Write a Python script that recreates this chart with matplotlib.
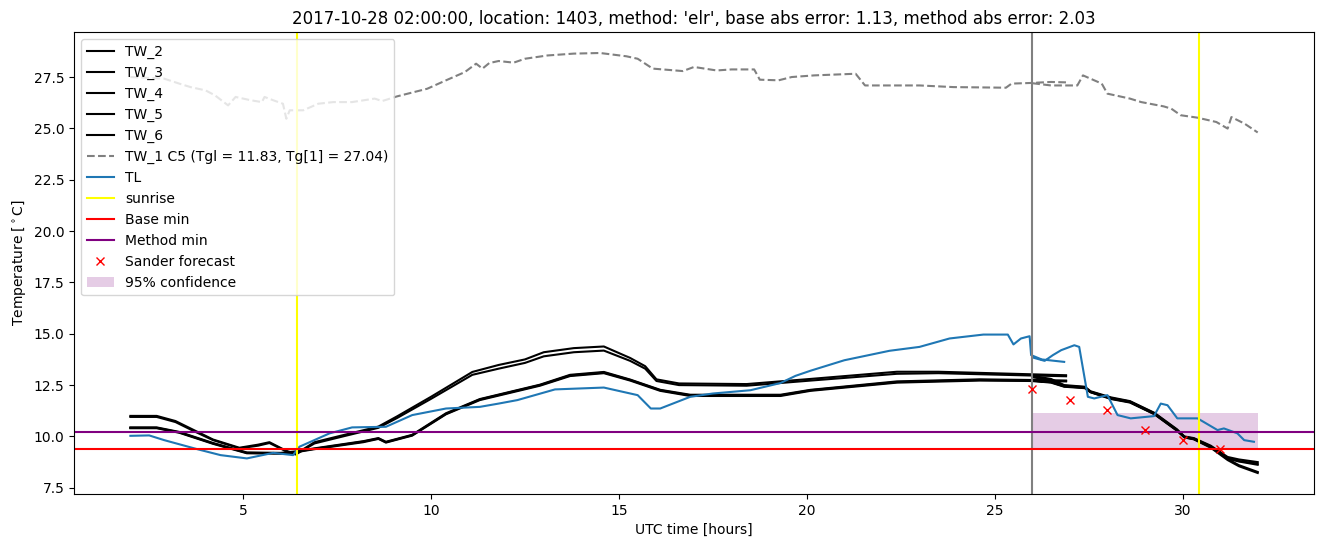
import numpy as np
import matplotlib
matplotlib.use("Agg")
import matplotlib.pyplot as plt

# ---- data ----
# black TW lines, first part (history, 2h .. 27h)
t_up_a = [2.0, 2.7, 3.2, 3.7, 4.2, 4.9, 5.4, 5.7, 6.15, 6.4, 6.9, 7.7, 8.6, 9.1, 10.0, 11.1, 11.8,
          12.5, 13.0, 13.8, 14.6, 15.3, 15.7, 16.0, 16.6, 18.4, 20.1, 22.4, 23.5, 25.9, 26.9]
tw2_a = [11.0, 11.0, 10.75, 10.3, 9.85, 9.45, 9.6, 9.72, 9.3, 9.15, 9.72, 10.08, 10.48, 10.98, 11.93, 13.14, 13.48,
         13.75, 14.1, 14.3, 14.38, 13.82, 13.42, 12.78, 12.58, 12.55, 12.8, 13.15, 13.15, 13.03, 12.98]
tw3_a = [10.95, 10.95, 10.7, 10.25, 9.82, 9.42, 9.55, 9.68, 9.27, 9.12, 9.66, 10.02, 10.42, 10.9, 11.83, 13.0, 13.3,
         13.58, 13.9, 14.1, 14.18, 13.68, 13.3, 12.7, 12.5, 12.47, 12.72, 13.05, 13.08, 12.97, 12.93]

t_lo_a = [2.0, 2.7, 3.3, 4.2, 5.1, 6.0, 6.4, 6.9, 8.2, 8.6, 8.8, 9.5, 10.4, 11.3, 12.9, 13.7, 14.6, 15.3,
          16.1, 16.9, 19.3, 20.1, 22.4, 24.6, 25.9, 26.9]
tw4_a = [10.44, 10.44, 10.22, 9.68, 9.22, 9.2, 9.27, 9.42, 9.77, 9.92, 9.74, 10.08, 11.13, 11.82, 12.52, 13.0, 13.14,
         12.77, 12.27, 12.03, 12.03, 12.27, 12.68, 12.78, 12.75, 12.72]
tw5_a = [10.4, 10.4, 10.18, 9.64, 9.18, 9.16, 9.23, 9.38, 9.72, 9.88, 9.7, 10.04, 11.08, 11.77, 12.47, 12.94, 13.08,
         12.72, 12.22, 11.97, 11.97, 12.22, 12.62, 12.72, 12.7, 12.68]
tw6_a = [10.42, 10.42, 10.2, 9.66, 9.2, 9.18, 9.25, 9.4, 9.75, 9.9, 9.72, 10.06, 11.1, 11.8, 12.5, 12.97, 13.11,
         12.75, 12.25, 12.0, 12.0, 12.25, 12.65, 12.75, 12.72, 12.7]

# black TW lines, second part (26h .. 32h)
t_b = [26.0, 26.5, 26.85, 27.4, 27.55, 28.1, 28.6, 29.25, 29.85, 30.05, 30.3, 30.75, 31.2, 31.5, 32.0]
tw2_b = [12.95, 12.8, 12.5, 12.42, 12.2, 11.9, 11.72, 11.15, 10.35, 10.0, 9.92, 9.55, 9.0, 8.88, 8.75]
tw3_b = [12.88, 12.75, 12.47, 12.4, 12.18, 11.87, 11.7, 11.13, 10.32, 9.98, 9.9, 9.52, 8.95, 8.8, 8.68]
tw4_b = [12.75, 12.66, 12.45, 12.38, 12.17, 11.85, 11.68, 11.1, 10.3, 9.97, 9.88, 9.48, 8.9, 8.6, 8.27]
tw5_b = [12.7, 12.62, 12.42, 12.35, 12.15, 11.82, 11.65, 11.08, 10.28, 9.95, 9.86, 9.45, 8.85, 8.55, 8.22]
tw6_b = [12.72, 12.64, 12.44, 12.37, 12.16, 11.84, 11.67, 11.1, 10.3, 9.96, 9.87, 9.5, 8.92, 8.78, 8.62]

# TW_1 C5 (grey dashed)
t_tw1_a = [2.0, 2.9, 3.3, 3.6, 4.0, 4.25, 4.6, 4.8, 5.2, 5.5, 5.57, 5.8, 6.06, 6.15, 6.24, 6.6, 7.0, 7.4, 7.9,
           8.5, 8.7, 9.1, 9.9, 10.4, 10.9, 11.2, 11.37, 11.55, 11.8, 12.2, 12.5, 13.1, 13.8, 14.5, 15.2, 15.5,
           15.9, 16.7, 17.0, 17.6, 18.0, 18.6, 18.75, 19.25, 19.6, 20.2, 21.3, 21.55, 23.0, 23.9, 25.3, 25.45,
           25.95, 26.5, 26.9]
tw1_a = [27.5, 27.42, 27.18, 27.01, 26.85, 26.61, 26.12, 26.53, 26.37, 26.28, 26.53, 26.37, 26.2, 25.47, 25.88,
         25.88, 26.2, 26.28, 26.28, 26.45, 26.33, 26.56, 26.93, 27.34, 27.74, 28.15, 27.91, 28.18, 28.28, 28.2,
         28.39, 28.55, 28.64, 28.67, 28.51, 28.39, 27.91, 27.79, 27.99, 27.82, 27.87, 27.87, 27.37, 27.34, 27.5,
         27.58, 27.66, 27.09, 27.09, 27.01, 26.98, 27.18, 27.21, 27.26, 27.24]
t_tw1_b = [26.0, 26.5, 27.2, 27.35, 27.85, 28.0, 28.6, 28.9, 29.5, 29.7, 29.95, 30.4, 30.9, 31.2, 31.3, 31.65, 32.0]
tw1_b = [27.2, 27.09, 27.09, 27.58, 27.18, 26.69, 26.45, 26.28, 26.07, 25.96, 25.64, 25.52, 25.31, 24.99, 25.55,
         25.23, 24.8]

# TL (blue)
t_tl_a = [2.0, 2.5, 2.9, 3.8, 4.4, 5.1, 5.8, 6.33, 6.5, 7.3, 7.9, 8.8, 9.5, 10.4, 11.3, 11.8, 12.3, 13.3, 14.6,
          15.5, 15.85, 16.1, 16.9, 17.5, 18.5, 19.3, 19.7, 20.1, 21.0, 22.2, 23.0, 23.8, 24.7, 25.35, 25.5, 25.7,
          25.93, 25.97, 26.25, 26.85]
tl_a = [10.03, 10.05, 9.82, 9.37, 9.09, 8.93, 9.2, 9.09, 9.5, 10.15, 10.44, 10.47, 11.04, 11.36, 11.44, 11.6,
        11.77, 12.29, 12.38, 12.01, 11.36, 11.36, 11.93, 12.09, 12.25, 12.6, 12.95, 13.2, 13.71, 14.17, 14.36,
        14.77, 14.96, 14.96, 14.48, 14.77, 14.88, 13.96, 13.75, 13.63]
t_tl_b = [26.0, 26.33, 26.55, 26.77, 27.12, 27.25, 27.48, 27.65, 28.0, 28.27, 28.62, 29.24, 29.42, 29.6, 29.86,
          30.4, 30.93, 31.1, 31.46, 31.64, 31.9]
tl_b = [13.85, 13.68, 13.96, 14.2, 14.44, 14.36, 11.93, 11.85, 12.01, 11.04, 10.88, 10.99, 11.6, 11.52, 10.88,
        10.88, 10.31, 10.39, 10.15, 9.82, 9.74]

sunrise = [6.43, 30.44]
forecast_start = 26.0
base_min = 9.38
method_min = 10.24

sander_t = [26, 27, 28, 29, 30, 31]
sander_temp = [12.33, 11.75, 11.3, 10.3, 9.85, 9.37]

conf_t = [26.0, 32.0]
conf_low = [9.45, 9.45]
conf_high = [11.15, 11.15]

title = ("2017-10-28 02:00:00, location: 1403, method: 'elr', "
         "base abs error: 1.13, method abs error: 2.03")


def join(t1, y1, t2, y2):
    # history + forecast part, broken by a nan so they are one line
    return (np.concatenate([t1, [np.nan], t2]),
            np.concatenate([y1, [np.nan], y2]))


fig = plt.figure(figsize=(13.24, 5.47), dpi=100)
ax = fig.add_axes([0.0559, 0.0969, 0.9366, 0.8446])

ax.plot(*join(t_up_a, tw2_a, t_b, tw2_b), 'k-', label='TW_2')
ax.plot(*join(t_up_a, tw3_a, t_b, tw3_b), 'k-', label='TW_3')
ax.plot(*join(t_lo_a, tw4_a, t_b, tw4_b), 'k-', label='TW_4')
ax.plot(*join(t_lo_a, tw5_a, t_b, tw5_b), 'k-', label='TW_5')
ax.plot(*join(t_lo_a, tw6_a, t_b, tw6_b), 'k-', label='TW_6')
ax.plot(*join(t_tw1_a, tw1_a, t_tw1_b, tw1_b), '--', color='gray',
        label='TW_1 C5 (Tgl = 11.83, Tg[1] = 27.04)')
ax.plot(*join(t_tl_a, tl_a, t_tl_b, tl_b), color='C0', label='TL')

ax.axvline(forecast_start, color='gray')
for i, s in enumerate(sunrise):
    ax.axvline(s, color='yellow', label='sunrise' if i == 0 else None)
ax.axhline(base_min, color='red', label='Base min')
ax.axhline(method_min, color='purple', label='Method min')
ax.plot(sander_t, sander_temp, 'rx', label='Sander forecast')
ax.fill_between(conf_t, conf_low, conf_high, color='purple', alpha=0.2,
                linewidth=0, label='95% confidence')

ax.set_title(title)
ax.set_xlabel('UTC time [hours]')
ax.set_ylabel(r'Temperature [$^\circ$C]')
ax.legend(loc='upper left')

fig.savefig('out.png', dpi=100)
